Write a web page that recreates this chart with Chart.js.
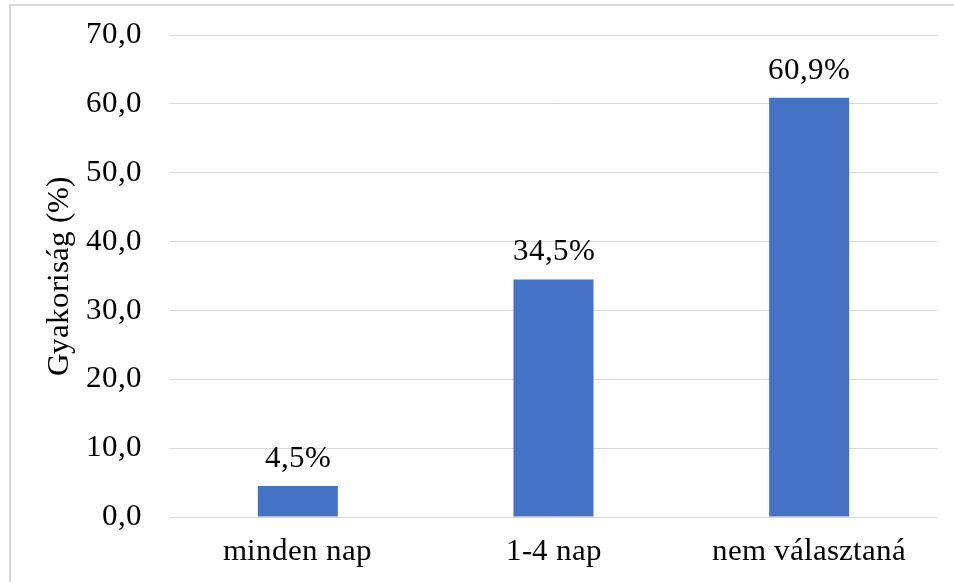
<!DOCTYPE html>
<html>
<head>
<meta charset="utf-8">
<script src="https://cdn.jsdelivr.net/npm/chart.js@4/dist/chart.umd.min.js"></script>
<style>
  @font-face {
    font-family: 'ChartSerif';
    src: local('Liberation Serif'), local('LiberationSerif'), local('Times New Roman');
    font-weight: normal;
    font-style: normal;
  }
  html, body { margin: 0; padding: 0; background: #ffffff; font-family: 'ChartSerif', 'Liberation Serif', serif; }
  #wrap { width: 954px; height: 582px; position: relative; }
  #probe { position: absolute; left: -9999px; top: 0; font: 31px 'ChartSerif'; }
</style>
</head>
<body>
<div id="probe">Gyakoriság 0123456789,%</div>
<div id="wrap"><canvas id="c" width="954" height="582"></canvas></div>
<script>
// Válaszok megoszlása
const categories = ['minden nap', '1-4 nap', 'nem választaná'];
const frequencies = [4.5, 34.5, 60.9];
const yTicks = [0, 10, 20, 30, 40, 50, 60, 70];
const yTitle = 'Gyakoriság (%)';

const FONT = "ChartSerif, 'Liberation Serif', serif";
const fmt = (v, d) => v.toFixed(d).replace('.', ',');

Chart.defaults.font.family = FONT;
Chart.defaults.font.size = 31;
Chart.defaults.color = '#000000';

// Light frame around the whole chart
const framePlugin = {
  id: 'frame',
  beforeDraw(chart) {
    const ctx = chart.ctx;
    ctx.save();
    ctx.fillStyle = '#ffffff';
    ctx.fillRect(0, 0, chart.width, chart.height);
    ctx.strokeStyle = '#d9d9d9';
    ctx.lineWidth = 2;
    ctx.beginPath();
    ctx.moveTo(10, chart.height + 5);
    ctx.lineTo(10, 5);
    ctx.lineTo(chart.width + 5, 5);
    ctx.stroke();
    ctx.restore();
  }
};

// Percent labels above each bar
const valueLabels = {
  id: 'valueLabels',
  afterDatasetsDraw(chart) {
    const ctx = chart.ctx;
    const meta = chart.getDatasetMeta(0);
    ctx.save();
    ctx.font = '31px ' + FONT;
    ctx.fillStyle = '#000000';
    ctx.textAlign = 'center';
    ctx.textBaseline = 'alphabetic';
    meta.data.forEach((bar, i) => {
      ctx.fillText(fmt(frequencies[i], 1) + '%', bar.x, bar.y - 19);
    });
    ctx.restore();
  }
};

const chart = new Chart(document.getElementById('c'), {
  type: 'bar',
  data: {
    labels: categories,
    datasets: [{
      data: frequencies,
      backgroundColor: '#4472C4',
      borderWidth: 0,
      categoryPercentage: 1,
      barPercentage: 0.313
    }]
  },
  options: {
    responsive: false,
    animation: false,
    devicePixelRatio: 1,
    layout: { padding: { left: 20, right: 17, top: 35, bottom: 0 } },
    plugins: {
      legend: { display: false },
      tooltip: { enabled: false }
    },
    scales: {
      x: {
        grid: { display: false, drawTicks: false },
        border: { display: false },
        ticks: {
          color: '#000000',
          font: { family: FONT, size: 31 },
          padding: 16,
          maxRotation: 0,
          autoSkip: false
        },
        afterFit(scale) {
          scale.height = 65;
          scale.paddingLeft = 0;
          scale.paddingRight = 0;
        }
      },
      y: {
        min: 0,
        max: 70,
        afterBuildTicks(scale) { scale.ticks = yTicks.map(v => ({ value: v })); },
        grid: { color: '#d9d9d9', lineWidth: 1, drawTicks: false },
        border: { display: false },
        ticks: {
          color: '#000000',
          font: { family: FONT, size: 31 },
          padding: 28,
          callback: (v) => fmt(v, 1)
        },
        title: {
          display: true,
          text: yTitle,
          color: '#000000',
          font: { family: FONT, size: 31 },
          padding: { top: 21, bottom: 0 }
        },
        afterFit(scale) {
          scale.width = 150;
          scale.paddingTop = 0;
          scale.paddingBottom = 0;
        }
      }
    }
  },
  plugins: [framePlugin, valueLabels]
});

// Redraw once the serif face is ready so every label uses it
const redraw = () => chart.update('none');
if (document.fonts) {
  document.fonts.load("31px ChartSerif", 'Gyakoriság 0123456789,%').then(redraw, redraw);
  document.fonts.ready.then(redraw);
}
setTimeout(redraw, 200);
setTimeout(redraw, 800);
</script>
</body>
</html>
